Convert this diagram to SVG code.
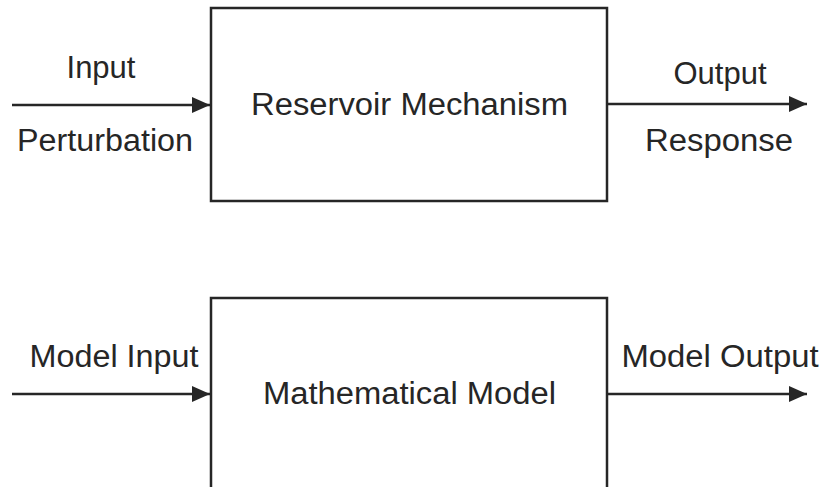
<svg xmlns="http://www.w3.org/2000/svg" width="825" height="487" viewBox="0 0 825 487">
<style>
.box{fill:#fff;stroke:#262626;stroke-width:2.5}
.conn{stroke:#262626;stroke-width:2.5;fill:none}
.t{font-family:"Liberation Sans",Arial,sans-serif;font-size:31px;fill:#262626;text-anchor:middle}
</style>
<defs>
<marker id="ah" markerUnits="userSpaceOnUse" markerWidth="20" markerHeight="18" refX="18" refY="8" orient="auto">
<path d="M0,0 L18,8 L0,16 Z" fill="#262626"/>
</marker>
</defs>
<rect width="825" height="487" fill="#fff"/>
<g id="reservoir">
<rect class="box" x="211" y="8" width="396" height="193"/>
<text class="t" x="409.5" y="115" textLength="317" lengthAdjust="spacingAndGlyphs">Reservoir Mechanism</text>
</g>
<g id="model">
<rect class="box" x="211" y="298" width="396" height="195"/>
<text class="t" x="409.5" y="404" textLength="293" lengthAdjust="spacingAndGlyphs">Mathematical Model</text>
</g>
<g id="connectors">
<line class="conn" x1="12" y1="105" x2="210" y2="105" marker-end="url(#ah)"/>
<line class="conn" x1="607" y1="104" x2="807" y2="104" marker-end="url(#ah)"/>
<line class="conn" x1="12" y1="394" x2="210" y2="394" marker-end="url(#ah)"/>
<line class="conn" x1="607" y1="394" x2="807" y2="394" marker-end="url(#ah)"/>
</g>
<g id="labels">
<text class="t" x="101" y="78">Input</text>
<text class="t" x="105" y="151" textLength="176" lengthAdjust="spacingAndGlyphs">Perturbation</text>
<text class="t" x="720" y="84">Output</text>
<text class="t" x="719" y="151" textLength="148" lengthAdjust="spacingAndGlyphs">Response</text>
<text class="t" x="114" y="367" textLength="169" lengthAdjust="spacingAndGlyphs">Model Input</text>
<text class="t" x="720" y="367" textLength="197" lengthAdjust="spacingAndGlyphs">Model Output</text>
</g>
</svg>
